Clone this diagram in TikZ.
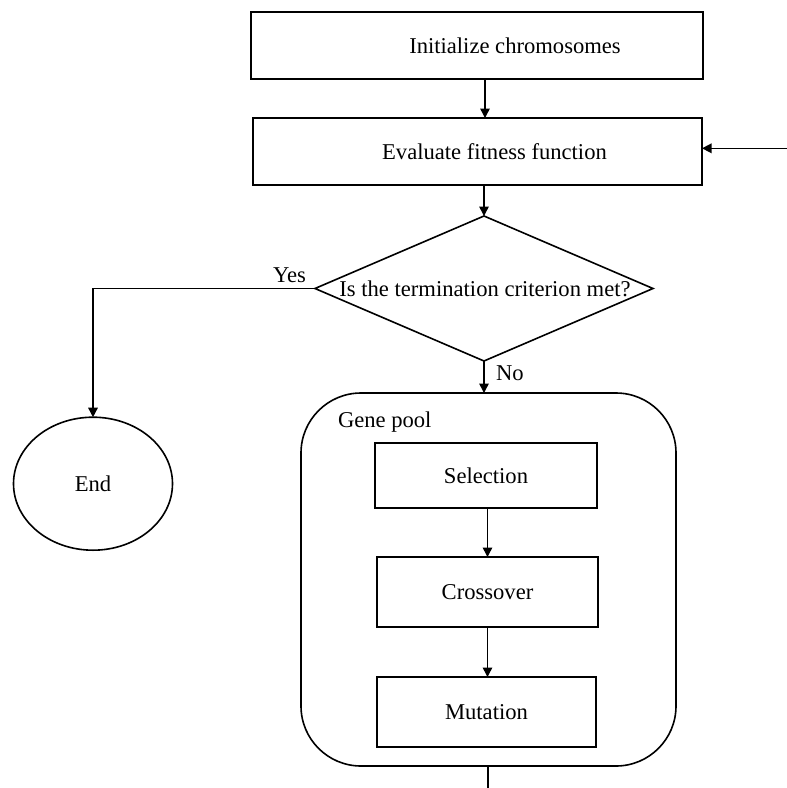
\documentclass[tikz,border=0pt]{standalone}
\usepackage{fontspec}
\setmainfont{Liberation Serif}
\usetikzlibrary{arrows.meta,shapes.geometric}
\begin{document}
\begin{tikzpicture}[x=1pt,y=-1pt,
  every node/.style={font=\fontsize{22.6}{26}\selectfont},
  box/.style={draw, line width=1.8pt, rectangle, inner sep=0pt, outer sep=0pt},
  decision/.style={draw, line width=1.6pt, diamond, inner sep=0pt, outer sep=0pt},
  terminal/.style={draw, line width=1.6pt, ellipse, inner sep=0pt, outer sep=0pt},
  pool/.style={draw, line width=1.6pt, rectangle, rounded corners=60pt, inner sep=0pt, outer sep=0pt},
  tag/.style={inner sep=0pt, outer sep=0pt},
  flow/.style={line width=1.5pt, -{Triangle[length=9.5pt,width=9.5pt]}},
  plain/.style={line width=1.5pt}
]
\useasboundingbox (0,0) rectangle (787,788);

% main loop
\node[box, minimum width=452pt, minimum height=67pt,
      label={[xshift=38pt]center:Initialize chromosomes}] (init) at (477,45.5) {};
\node[box, minimum width=449pt, minimum height=67pt,
      label={[xshift=17pt]center:Evaluate fitness function}] (eval) at (477.5,151.5) {};
\node[decision, minimum width=338pt, minimum height=145pt,
      label={[xshift=1pt]center:Is the termination criterion met?}] (dia) at (484,288.5) {};
\node[terminal, minimum width=159pt, minimum height=133pt] (end) at (93,483.7) {End};

% gene pool with its three operators
\node[pool, minimum width=375pt, minimum height=373pt] (gp) at (488.5,579.5) {};
\node[tag, anchor=base west] (gplabel) at (338,427) {Gene pool};
\node[box, minimum width=222pt, minimum height=65pt] (sel) at (486,475.5) {Selection};
\node[box, minimum width=221pt, minimum height=70pt] (cross) at (487.5,592) {Crossover};
\node[box, minimum width=219pt, minimum height=70pt] (mut) at (486.5,712) {Mutation};

% branch labels
\node[tag, anchor=base east] (yes) at (306,282.7) {Yes};
\node[tag, anchor=base west] (no) at (496,380) {No};

% free ends of the feedback loop
\coordinate (loopin) at (787,148.3);
\coordinate (exit) at (488,788);

% connectors
\draw[flow] ([xshift=8pt]init.south) -- ([xshift=7.5pt]eval.north);
\draw[flow] ([xshift=6.5pt]eval.south) -- (dia.north);
\draw[flow] (loopin) -- (loopin -| eval.east);
\draw[flow] (dia.west) -| (end.north);
\draw[flow] (dia.south) -- (dia.south |- gp.north);
\draw[flow] (cross.north |- sel.south) -- (cross.north);
\draw[flow] (cross.south) -- (cross.south |- mut.north);
\draw[plain] (gp.south -| exit) -- (exit);
\end{tikzpicture}
\end{document}
